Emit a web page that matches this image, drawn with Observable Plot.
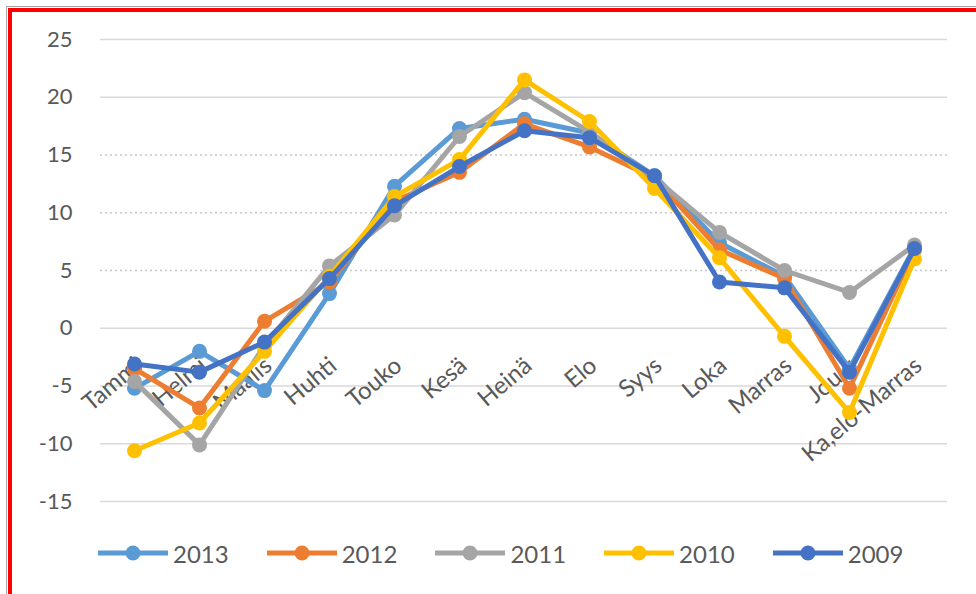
<!DOCTYPE html>
<html>
<head>
<meta charset="utf-8">
<script src="https://cdn.jsdelivr.net/npm/d3@7"></script>
<script src="https://cdn.jsdelivr.net/npm/@observablehq/plot@0.6"></script>
<style>
  html, body { margin: 0; padding: 0; width: 976px; height: 594px; overflow: hidden; background: #fff; }
  #frame { position: absolute; left: 6px; top: 6px; width: 1000px; height: 620px;
           border-left: 1px solid #a6a6a6; border-top: 1px solid #a6a6a6; }
  #frame::after { content: ""; position: absolute; left: 1px; top: 1px; right: 0; bottom: 0;
           border-left: 4px solid #ff0000; border-top: 4px solid #ff0000; }
  #chart { position: absolute; left: 0; top: 0; }
  #legend { position: absolute; left: 98px; top: 538px; display: flex; gap: 38px;
            font-family: Lato, "Open Sans", sans-serif; font-size: 24px; color: #595959; }
  .item { display: flex; align-items: center; gap: 5px; }
</style>
</head>
<body>
<div id="frame"></div>
<div id="chart"></div>
<div id="legend"></div>
<script>
const months = ["Tammi","Helmi","Maalis","Huhti","Touko","Kesä","Heinä","Elo","Syys","Loka","Marras","Joulu","Ka,elo-Marras"];
const years = ["2013","2012","2011","2010","2009"];
const colors = ["#5B9BD5","#ED7D31","#A5A5A5","#FFC000","#4472C4"];
const v2013 = [-5.2, -2.0, -5.4, 3.0, 12.3, 17.3, 18.1, 16.9, 13.2, 7.4, 4.5, -3.5, 7.0];
const v2012 = [-3.5, -6.9, 0.6, 4.0, 11.0, 13.5, 17.7, 15.7, 13.0, 6.8, 4.3, -5.2, 6.8];
const v2011 = [-4.6, -10.1, -1.5, 5.4, 9.8, 16.6, 20.4, 17.0, 13.0, 8.3, 5.0, 3.1, 7.2];
const v2010 = [-10.6, -8.2, -2.0, 4.5, 11.4, 14.6, 21.5, 17.9, 12.1, 6.1, -0.7, -7.3, 6.0];
const v2009 = [-3.1, -3.8, -1.2, 4.3, 10.6, 14.0, 17.1, 16.5, 13.2, 4.0, 3.5, -3.8, 6.9];
const series = [v2013, v2012, v2011, v2010, v2009];
const yTicks = [25, 20, 15, 10, 5, 0, -5, -10, -15];
const gridSolid = [25, 20, 0, -5, -10, -15];
const gridDotted = [15, 10, 5];

const font = 'Lato, "Open Sans", sans-serif';
const textColor = "#595959";

const marks = [
  Plot.ruleY(gridSolid, {stroke: "#d9d9d9", strokeWidth: 1.5}),
  Plot.ruleY(gridDotted, {stroke: "#c8c8c8", strokeWidth: 1.5, strokeDasharray: "2,3"}),
  Plot.axisY(yTicks, {tickSize: 0, tickPadding: 28, fontSize: 22, fill: textColor, label: null,
                      tickFormat: d => String(d)}),
  Plot.text(months, {x: d => d, y: () => 0, text: d => d, rotate: -40, textAnchor: "end",
                     dx: 4, dy: 34, fontSize: 24, fill: textColor})
];
series.forEach((vals, i) => {
  const data = months.map((m, j) => ({month: m, value: vals[j]}));
  marks.push(Plot.line(data, {x: "month", y: "value", stroke: colors[i], strokeWidth: 5, curve: "linear"}));
  marks.push(Plot.dot(data, {x: "month", y: "value", fill: colors[i], r: 7.5, stroke: "none"}));
});

const chart = Plot.plot({
  width: 976,
  height: 530,
  marginLeft: 100,
  marginRight: 29,
  marginTop: 39,
  marginBottom: 29,
  style: {fontFamily: font, background: "transparent", overflow: "visible"},
  x: {type: "point", domain: months, padding: 0.5, axis: null},
  y: {domain: [-15, 25], axis: null},
  marks
});
document.getElementById("chart").appendChild(chart);

const legend = document.getElementById("legend");
years.forEach((y, i) => {
  const item = document.createElement("div");
  item.className = "item";
  item.innerHTML = `<svg width="70" height="30"><line x1="0" x2="70" y1="15" y2="15" stroke="${colors[i]}" stroke-width="5"/><circle cx="35" cy="15" r="7.5" fill="${colors[i]}"/></svg><span>${y}</span>`;
  legend.appendChild(item);
});
</script>
</body>
</html>
